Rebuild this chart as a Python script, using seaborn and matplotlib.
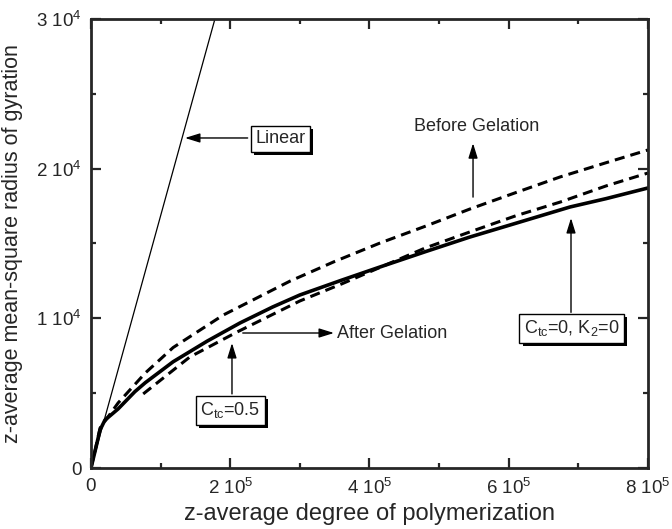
import numpy as np
import pandas as pd
import seaborn as sns
import matplotlib
matplotlib.use("Agg")
import matplotlib.pyplot as plt
import matplotlib.patheffects as pe
from matplotlib.ticker import MultipleLocator, FixedLocator

# data
linear_x = [0, 178000]
linear_y = [0, 30000]

solid_x = [0, 7000, 13000, 20000, 39000, 63000, 78000, 118000, 167000,
           214000, 261000, 300000, 360000, 415000, 480000, 544000, 610000,
           688000, 740000, 800000]
solid_y = [0, 1350, 2540, 3200, 3950, 5100, 5700, 7100, 8480,
           9690, 10760, 11560, 12550, 13430, 14450, 15430, 16350,
           17440, 18000, 18710]

before_x = [0, 7000, 13000, 39000, 78000, 118000, 190000, 261000, 286000,
            350000, 415000, 480000, 544000, 610000, 674000, 740000, 800000]
before_y = [0, 1400, 2670, 4350, 6350, 8050, 10220, 11900, 12490,
            13800, 15030, 16150, 17300, 18400, 19450, 20400, 21250]

after_x = [75000, 142000, 210000, 300000, 360000, 415000, 480000, 544000,
           610000, 674000, 740000, 800000]
after_y = [4950, 7420, 9090, 11160, 12300, 13400, 14700, 15770,
           16850, 17770, 18850, 19710]

x_ticks = [0, 200000, 400000, 600000, 800000]
x_labels = ["0", "2 10$^5$", "4 10$^5$", "6 10$^5$", "8 10$^5$"]
y_ticks = [0, 10000, 20000, 30000]
y_labels = ["0", "1 10$^4$", "2 10$^4$", "3 10$^4$"]

sns.set_style("ticks")
plt.rcParams["font.family"] = ["Liberation Sans", "DejaVu Sans"]
plt.rcParams["mathtext.default"] = "regular"

fig = plt.figure(figsize=(6.72, 5.29), dpi=100)
ax = fig.add_axes([0.1354, 0.1153, 0.8289, 0.8488])

dash = (0, (3.3, 2.0))
sns.lineplot(x=linear_x, y=linear_y, ax=ax, color="black", lw=0.9)
sns.lineplot(x=solid_x, y=solid_y, ax=ax, color="black", lw=2.6)
sns.lineplot(x=before_x, y=before_y, ax=ax, color="black", lw=2.2, linestyle=dash)
sns.lineplot(x=after_x, y=after_y, ax=ax, color="black", lw=2.2, linestyle=dash)

ax.set_xlim(0, 800000)
ax.set_ylim(0, 30000)
ax.xaxis.set_major_locator(FixedLocator(x_ticks))
ax.set_xticklabels(x_labels)
ax.yaxis.set_major_locator(FixedLocator(y_ticks))
ax.set_yticklabels(y_labels)
ax.xaxis.set_minor_locator(MultipleLocator(100000))
ax.yaxis.set_minor_locator(MultipleLocator(5000))
ax.tick_params(which="both", direction="in", top=True, right=True,
               width=1.6, labelsize=13.5, pad=7)
ax.tick_params(which="major", length=7)
ax.tick_params(which="minor", length=3.5)
for s in ax.spines.values():
    s.set_linewidth(2.0)

ax.set_xlabel("z-average degree of polymerization", fontsize=17, labelpad=4)
ax.set_ylabel("z-average mean-square radius of gyration", fontsize=15.5, labelpad=9)

arrow = dict(arrowstyle="-|>,head_length=0.9,head_width=0.28", color="black",
             lw=1.0, shrinkA=0, shrinkB=0)
box = dict(boxstyle="square,pad=0.25", fc="white", ec="black", lw=1.0)
shadow = [pe.SimplePatchShadow(offset=(2.5, -2.5), shadow_rgbFace="black", alpha=1.0),
          pe.Normal()]


def boxed(x, y, s):
    t = ax.text(x, y, s, fontsize=13, ha="center", va="center", bbox=box, zorder=5)
    t.get_bbox_patch().set_path_effects(shadow)
    return t


# Linear
ax.annotate("", xy=(135000, 22050), xytext=(225000, 22050), arrowprops=arrow)
boxed(272000, 22000, "Linear")

# Before Gelation
ax.annotate("", xy=(548700, 21700), xytext=(548700, 18100), arrowprops=arrow)
ax.text(554000, 22850, "Before Gelation", fontsize=13, ha="center", va="center")

# After Gelation
ax.annotate("", xy=(349000, 9020), xytext=(218000, 9020), arrowprops=arrow)
ax.text(354000, 9020, "After Gelation", fontsize=13, ha="left", va="center")

# Ctc = 0.5
ax.annotate("", xy=(202500, 8350), xytext=(202500, 4950), arrowprops=arrow)
boxed(200000, 3850, "C$_{tc}$=0.5")

# Ctc = 0, K2 = 0
ax.annotate("", xy=(689400, 16700), xytext=(689400, 10400), arrowprops=arrow)
boxed(690000, 9350, "C$_{tc}$=0, K$_2$=0")

fig.savefig("out.png", dpi=100)
plt.close(fig)
